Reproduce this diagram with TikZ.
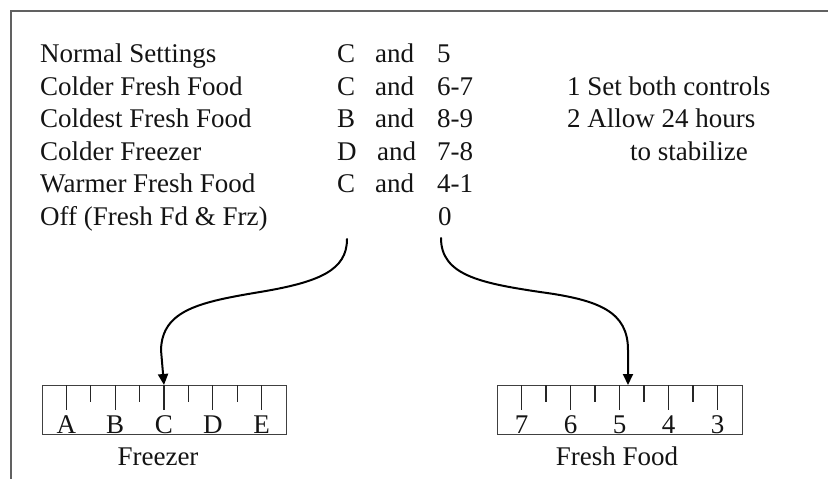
\documentclass[tikz,border=0pt]{standalone}
\usepackage{fontspec}
\setmainfont{Liberation Serif}
\usetikzlibrary{arrows.meta}
\begin{document}
\begin{tikzpicture}[x=1pt,y=-1pt,
  txt/.style={anchor=base west, inner sep=0pt, text=black!92,
              font=\fontsize{27}{32}\selectfont},
  lbl/.style={anchor=base, inner sep=0pt, text=black!92,
              font=\fontsize{27}{32}\selectfont},
  frame/.style={draw=black!62, line width=1.6pt},
  dial/.style={draw=black!75, line width=1.2pt, rectangle, inner sep=0pt,
               minimum height=49pt, anchor=north west},
  tick/.style={draw=black!85, line width=1.1pt},
  conn/.style={draw=black, line width=2pt, line cap=round, line join=round,
               -{Triangle[length=11pt,width=10pt]}}]
\useasboundingbox (0,0) rectangle (828,479);
\fill[white] (0,0) rectangle (828,479);

% open frame: top and left edges
\draw[frame] (828,11) -- (11,11) -- (11,479);

% settings table
\node[txt] (r1) at (40,62.5)  {Normal Settings};
\node[txt] (r2) at (40,95)    {Colder Fresh Food};
\node[txt] (r3) at (40,127.5) {Coldest Fresh Food};
\node[txt] (r4) at (40,160)   {Colder Freezer};
\node[txt] (r5) at (40,192.5) {Warmer Fresh Food};
\node[txt] (r6) at (40,225)   {Off (Fresh Fd \& Frz)};

\node[txt] (f1) at (337,62.5)  {C};
\node[txt] (f2) at (337,95)    {C};
\node[txt] (f3) at (337,127.5) {B};
\node[txt] (f4) at (337,160)   {D};
\node[txt] (f5) at (337,192.5) {C};

\node[txt] (a1) at (375,62.5)  {and};
\node[txt] (a2) at (375,95)    {and};
\node[txt] (a3) at (375,127.5) {and};
\node[txt] (a4) at (377,160)   {and};
\node[txt] (a5) at (375,192.5) {and};

\node[txt] (n1) at (437,62.5)  {5};
\node[txt] (n2) at (437,95)    {6-7};
\node[txt] (n3) at (437,127.5) {8-9};
\node[txt] (n4) at (437,160)   {7-8};
\node[txt] (n5) at (437,192.5) {4-1};
\node[txt] (n6) at (438,225)   {0};

% notes
\node[txt] (t1) at (567,95)    {1 Set both controls};
\node[txt] (t2) at (567,127.5) {2 Allow 24 hours};
\node[txt] (t3) at (630,160)   {to stabilize};

% freezer dial
\node[dial, minimum width=244pt] (fz) at (42,385) {};
\foreach \i in {1,...,9} {
  \pgfmathsetmacro{\len}{mod(\i,2)==1 ? 25 : 17}
  \draw[tick] ([xshift=\i*24.4pt]fz.north west) -- ++(0,\len);
}
\foreach \l [count=\k] in {A,B,C,D,E} {
  \node[lbl] (fz\l) at ([xshift={(2*\k-1)*24.4pt}, yshift=2pt]fz.south west) {\l};
}
\node[lbl] (fzname) at (158,465) {Freezer};
\coordinate (fzC) at ([xshift=122pt]fz.north west);

% fresh food dial
\node[dial, minimum width=245pt] (ff) at (497,385) {};
\foreach \i in {1,...,9} {
  \pgfmathsetmacro{\len}{mod(\i,2)==1 ? 25 : 17}
  \draw[tick] ([xshift=\i*24.5pt]ff.north west) -- ++(0,\len);
}
\foreach \l [count=\k] in {7,6,5,4,3} {
  \node[lbl] (ff\l) at ([xshift={(2*\k-1)*24.5pt}, yshift=2pt]ff.south west) {\l};
}
\node[lbl] (ffname) at (617,465) {Fresh Food};
\coordinate (ffT) at ([xshift=131pt]ff.north west);

% pointers from the table to the dials
\coordinate (s1) at (347,239);
\coordinate (s2) at (441,238);
\draw[conn] (s1) .. controls (347,270) and (320,282) .. (260,292)
                 .. controls (200,302) and (162,310) .. (161,350) -- (fzC);
\draw[conn] (s2) .. controls (441,275) and (480,283) .. (540,292)
                 .. controls (600,300) and (628,312) .. (628,350) -- (ffT);
\end{tikzpicture}
\end{document}
